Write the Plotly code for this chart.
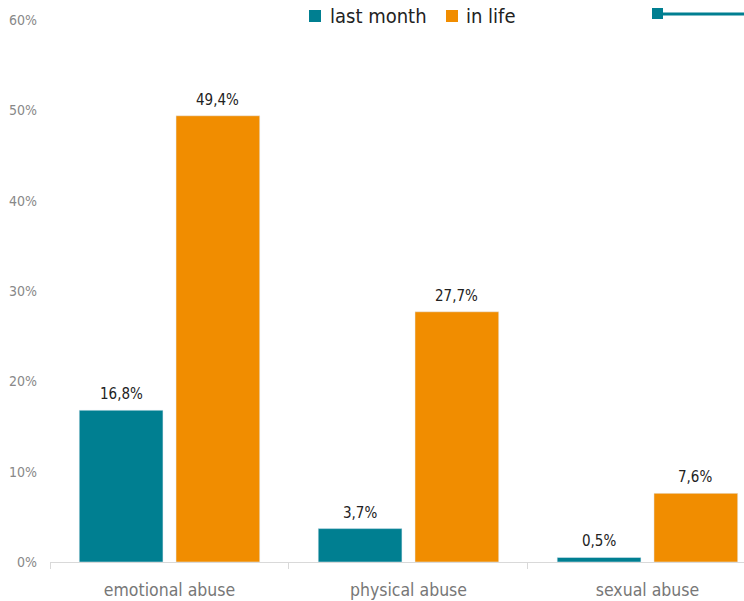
import plotly.graph_objects as go

categories = ["emotional abuse", "physical abuse", "sexual abuse"]
last_month = [0.168, 0.037, 0.005]
in_life = [0.494, 0.277, 0.076]
series_names = ["last month", "in life"]
y_ticks = [0, 0.1, 0.2, 0.3, 0.4, 0.5, 0.6]

TEAL = "#007F91"
ORANGE = "#F18D00"
FONT = "Ubuntu Condensed, Liberation Sans Narrow, DejaVu Sans Condensed, Open Sans, sans-serif"


def fmt(v):
    return f"{v*100:.1f}%".replace(".", ",")


fig = go.Figure()
fig.add_trace(go.Bar(name=series_names[0], x=categories, y=last_month, marker_color=TEAL,
                     showlegend=False))
fig.add_trace(go.Bar(name=series_names[1], x=categories, y=in_life, marker_color=ORANGE,
                     showlegend=False))

annotations = []
for vals, shift in ((last_month, -48), (in_life, 48)):
    for c, v in zip(categories, vals):
        annotations.append(dict(x=c, y=v, xref="x", yref="y", text=fmt(v), showarrow=False,
                                xshift=shift, yanchor="bottom", yshift=5,
                                font=dict(size=15, color="#222")))

# custom legend (text as annotations)
annotations += [
    dict(x=328, y=16, xref="paper", yref="paper", text=series_names[0], showarrow=False,
         xanchor="left", yanchor="middle", font=dict(size=20, color="#222")),
    dict(x=464, y=16, xref="paper", yref="paper", text=series_names[1], showarrow=False,
         xanchor="left", yanchor="middle", font=dict(size=20, color="#222")),
]

W, H, L, T, B = 744, 601, 50, 20, 39
pw, ph = W - L, H - T - B


def px(x):
    return (x - L) / pw


def py(y):
    return (H - B - y) / ph


for a in annotations:
    if a["xref"] == "paper":
        a["x"] = px(a["x"])
        a["y"] = py(a["y"])

fig.update_layout(
    width=W, height=H,
    margin=dict(l=L, r=0, t=T, b=B),
    paper_bgcolor="white", plot_bgcolor="white",
    font=dict(family=FONT),
    barmode="group", bargap=0.19, bargroupgap=0.135,
    showlegend=False,
    xaxis=dict(range=[-0.5, 2.404], showline=True, linecolor="#d9d9d9", linewidth=1,
               ticks="outside", tickson="boundaries", ticklen=6, tickcolor="#d9d9d9",
               tickfont=dict(size=17.5, color="#777"), showgrid=False, ticklabelstandoff=12),
    yaxis=dict(range=[0, 0.6], tickvals=y_ticks, tickformat=".0%", showgrid=False,
               zeroline=False, tickfont=dict(size=14, color="#888"), ticks="",
               ticklabelstandoff=12),
    annotations=annotations,
    shapes=[
        dict(type="rect", xref="paper", yref="paper", x0=px(309), x1=px(321),
             y0=py(22), y1=py(10), fillcolor=TEAL, line=dict(width=0)),
        dict(type="rect", xref="paper", yref="paper", x0=px(446), x1=px(458),
             y0=py(22), y1=py(10), fillcolor=ORANGE, line=dict(width=0)),
        dict(type="line", xref="paper", yref="paper", x0=px(657), x1=1.0,
             y0=py(14), y1=py(14), line=dict(color=TEAL, width=3)),
        dict(type="rect", xref="paper", yref="paper", x0=px(652), x1=px(663),
             y0=py(19), y1=py(8), fillcolor=TEAL, line=dict(width=0)),
    ],
)

fig.write_html("out.html")
